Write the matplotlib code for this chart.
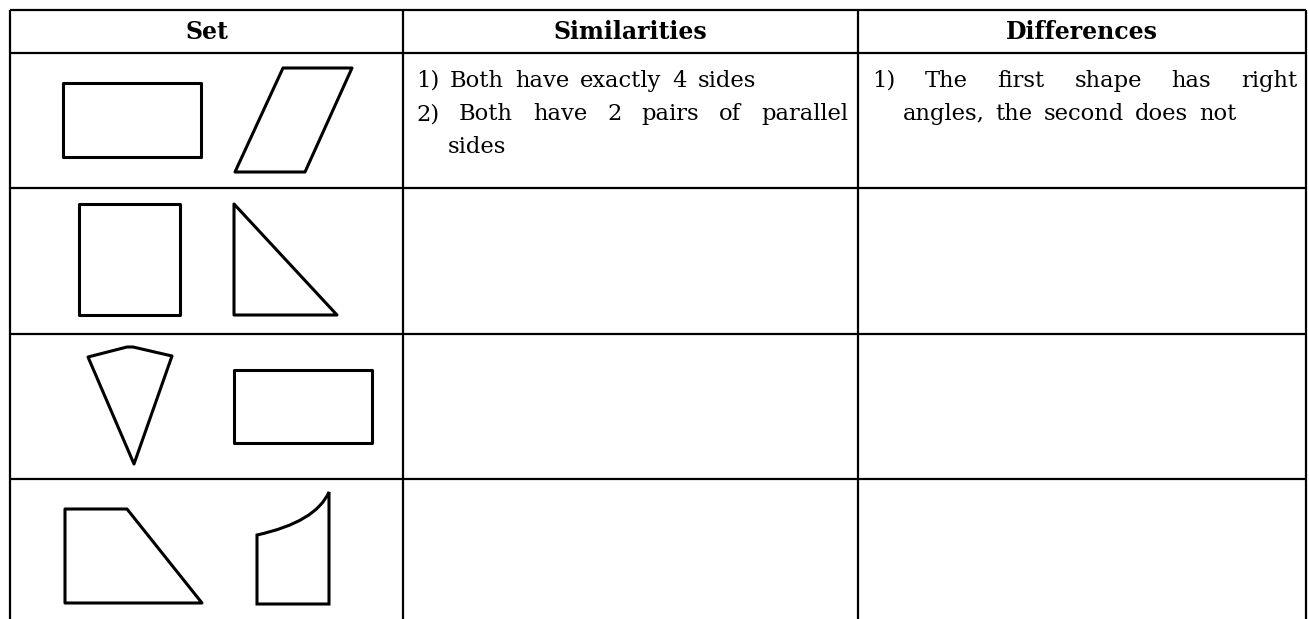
import matplotlib
matplotlib.use("Agg")
import matplotlib.pyplot as plt
from matplotlib.path import Path
from matplotlib.patches import PathPatch

# table layout (pixel grid of the page)
col_edges = [10, 403, 858, 1306]
row_edges = [10, 53, 188, 334, 479]
headers = ["Set", "Similarities", "Differences"]

sim_lines = [
    ["1)", "Both", "have", "exactly", "4", "sides"],
    ["2)", "Both", "have", "2", "pairs", "of", "parallel"],
    ["sides"],
]
diff_lines = [
    ["1)", "The", "first", "shape", "has", "right"],
    ["angles,", "the", "second", "does", "not"],
]

# hand drawn shapes, outline vertices
rect_1 = [(63, 83), (201, 83), (201, 157), (63, 157)]
para_1 = [(283, 68), (352, 68), (305, 172), (235, 172)]
square_2 = [(79, 204), (180, 204), (180, 315), (79, 315)]
tri_2 = [(234, 204), (337, 315), (234, 315)]
kite_3 = [(88, 357), (127, 347), (133, 347), (172, 356), (134, 464)]
rect_3 = [(234, 370), (372, 370), (372, 443), (234, 443)]
trap_4 = [(65, 509), (127, 509), (202, 603), (65, 603)]
curved_4 = [(257, 604), (257, 535), (316, 522), (329, 492), (329, 604)]

W, H = 1309, 619
fig = plt.figure(figsize=(W / 100, H / 100), dpi=100)
ax = fig.add_axes([0, 0, 1, 1])
ax.set_xlim(0, W)
ax.set_ylim(H, 0)
ax.axis("off")

lw_grid = 1.6
for x in col_edges:
    ax.plot([x, x], [row_edges[0], H], color="black", lw=lw_grid, solid_capstyle="butt")
for y in row_edges:
    ax.plot([col_edges[0], col_edges[-1]], [y, y], color="black", lw=lw_grid, solid_capstyle="butt")

font = "DejaVu Serif"
fs = 16.3

for i, h in enumerate(headers):
    ax.text((col_edges[i] + col_edges[i + 1]) / 2, 32, h, ha="center", va="center",
            fontsize=17, fontweight="bold", family=font)


def poly(pts, lw=2.2):
    ax.add_patch(plt.Polygon(pts, closed=True, fill=False, ec="black", lw=lw, joinstyle="round"))


for shp in [rect_1, para_1, square_2, tri_2, kite_3, rect_3, trap_4]:
    poly(shp)

# curved shape: straight sides plus one quadratic curve
p = curved_4
verts = [p[0], p[1], p[2], p[3], p[4], p[0]]
codes = [Path.MOVETO, Path.LINETO, Path.CURVE3, Path.CURVE3, Path.LINETO, Path.CLOSEPOLY]
ax.add_patch(PathPatch(Path(verts, codes), fill=False, ec="black", lw=2.2))

fig.canvas.draw()
renderer = fig.canvas.get_renderer()


def text_width(s):
    t = ax.text(0, 0, s, fontsize=fs, family=font)
    w = t.get_window_extent(renderer).width
    t.remove()
    return w


space_w = (text_width("a b") - text_width("ab")) * 1.5


def put_line(words, x0, y, x1=None):
    texts = [ax.text(x0, y, w, ha="left", va="baseline", fontsize=fs, family=font) for w in words]
    widths = [t.get_window_extent(renderer).width for t in texts]
    sp = space_w
    if x1 is not None and len(words) > 1:
        sp = (x1 - x0 - sum(widths)) / (len(words) - 1)
    x = x0
    for t, w in zip(texts, widths):
        t.set_x(x)
        x += w + sp


put_line(sim_lines[0], 416, 87)
put_line(sim_lines[1], 416, 120, 848)
put_line(sim_lines[2], 448, 153)
put_line(diff_lines[0], 872, 87, 1297)
put_line(diff_lines[1], 903, 120)

fig.savefig("out.png", dpi=100)
